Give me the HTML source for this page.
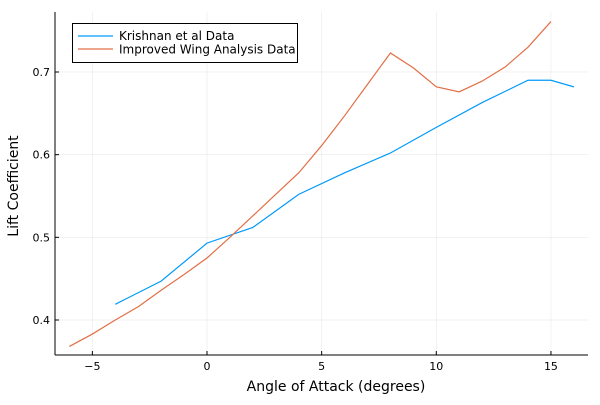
<!DOCTYPE html>
<html><head><meta charset="utf-8"><style>
body{margin:0;background:#fff;}
svg{font-family:"DejaVu Sans","Liberation Sans",sans-serif;}
</style></head><body>
<svg width="600" height="400" id="c">
<rect width="600" height="400" fill="#fff"/>
<g id="grid"></g>
<g id="axes"></g>
<g id="series"></g>
<text x="336" y="391" text-anchor="middle" font-size="14" fill="#000">Angle of Attack (degrees)</text>
<text transform="translate(18,186) rotate(-90)" text-anchor="middle" font-size="14" fill="#000">Lift Coefficient</text>
<g>
<rect x="72.5" y="23.5" width="225" height="39" fill="#fff" stroke="#000" stroke-width="1"/>
<g>
<line x1="78" y1="36" x2="113" y2="36" stroke="#009af9" stroke-width="1.2"/>
<text x="119" y="40" font-size="12">Krishnan et al Data</text></g>
<g>
<line x1="78" y1="49" x2="113" y2="49" stroke="#e26f46" stroke-width="1.2"/>
<text x="119" y="53.5" font-size="12">Improved Wing Analysis Data</text></g>
</g>
</svg>
<script>
const xTicks=[-5,0,5,10,15];
const yTicks=[0.4,0.5,0.6,0.7];
const yTickLabels=["0.4","0.5","0.6","0.7"];
const krishnanX=[-4,-2,0,2,4,6,8,10,12,14,15,16];
const krishnanY=[0.419,0.447,0.493,0.512,0.552,0.578,0.602,0.633,0.663,0.690,0.690,0.682];
const improvedX=[-6,-5,-4,-3,-2,-1,0,1,2,3,4,5,6,7,8,9,10,11,12,13,14,15];
const improvedY=[0.368,0.383,0.400,0.416,0.436,0.455,0.475,0.500,0.526,0.552,0.578,0.611,0.647,0.685,0.723,0.705,0.682,0.676,0.689,0.706,0.730,0.761];
const L=55,R=588,T=12,B=355;
const sx=v=>207+22.93*v;
const sy=v=>320-(v-0.4)*826.7;
const NS="http://www.w3.org/2000/svg";
function mk(tag,attrs,parent,text){const e=document.createElementNS(NS,tag);for(const k in attrs)e.setAttribute(k,attrs[k]);if(text!==undefined)e.textContent=text;parent.appendChild(e);return e;}
const grid=document.getElementById('grid'),axes=document.getElementById('axes'),series=document.getElementById('series');
xTicks.forEach(t=>{const x=sx(t);
 const g=mk('line',{x1:x,y1:T,x2:x,y2:B,stroke:'#000','stroke-opacity':0.1,'stroke-width':0.5},grid);
 
 
 mk('line',{x1:x,y1:B,x2:x,y2:B-4,stroke:'#000','stroke-width':1},axes);
 const lb=mk('text',{x:x,y:B+15,'text-anchor':'middle','font-size':11},axes,t<0?'\u2212'+Math.abs(t):String(t));
 
 
});
yTicks.forEach((t,i)=>{const y=sy(t);
 const g=mk('line',{x1:L,y1:y,x2:R,y2:y,stroke:'#000','stroke-opacity':0.1,'stroke-width':0.5},grid);
 
 
 mk('line',{x1:L,y1:y,x2:L+4,y2:y,stroke:'#000','stroke-width':1},axes);
 const lb=mk('text',{x:L-5,y:y+4,'text-anchor':'end','font-size':11},axes,yTickLabels[i]);
 
 
});
mk('line',{x1:L,y1:T,x2:L,y2:B,stroke:'#000','stroke-width':1},axes);
mk('line',{x1:L,y1:B,x2:R,y2:B,stroke:'#000','stroke-width':1},axes);
function line(xs,ys,color,name){
 const p=mk('polyline',{points:xs.map((x,i)=>sx(x)+','+sy(ys[i])).join(' '),fill:'none',stroke:color,'stroke-width':1.2},series);
 
 
}
line(krishnanX,krishnanY,'#009af9','krishnan-line');
line(improvedX,improvedY,'#e26f46','improved-line');
</script>
</body></html>
